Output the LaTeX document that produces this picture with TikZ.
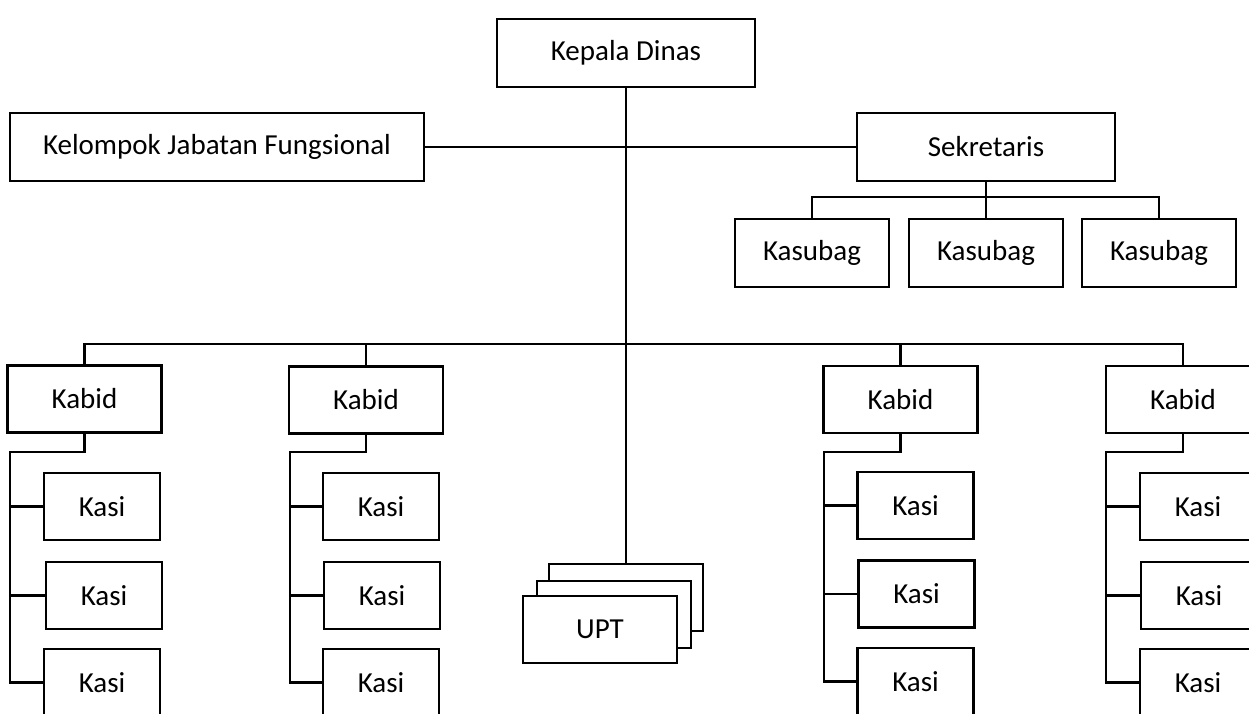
\documentclass[tikz,border=0pt]{standalone}
\usepackage{fontspec}
\setmainfont{Carlito}
\begin{document}
\begin{tikzpicture}[x=1pt,y=-1pt,
  box/.style={draw, line width=2.5pt, fill=white, inner sep=0pt, font=\fontsize{29}{34}\selectfont},
  wide/.style={box, minimum width=258pt, minimum height=68pt},
  kabid/.style={box, minimum width=154pt, minimum height=67pt},
  kasi/.style={box, minimum width=116pt, minimum height=67pt},
  conn/.style={line width=2.1pt}]
\useasboundingbox (0,0) rectangle (1249,713);
\clip (0,0) rectangle (1249,713);
\fill[white] (0,0) rectangle (1249,713);

% top level
\node[wide] (kd) at (626,53) {Kepala Dinas};
\node[box, minimum width=414pt, minimum height=68pt] (kjf) at (217,147) {Kelompok Jabatan Fungsional};
\node[wide] (sek) at (986,147) {Sekretaris};

% Kasubag
\node[kabid, minimum height=68pt] (ksb1) at (812,253) {Kasubag};
\node[kabid, minimum height=68pt] (ksb2) at (986,253) {Kasubag};
\node[kabid, minimum height=68pt] (ksb3) at (1159,253) {Kasubag};

% UPT stack
\node[kabid] (upt3) at (626,597.5) {};
\node[kabid] (upt2) at (614,614.5) {};
\node[kabid] (upt1) at (600,629.5) {UPT};

% Kabid
\node[kabid] (kb1) at (84.5,399) {Kabid};
\node[kabid] (kb2) at (366,400) {Kabid};
\node[kabid] (kb3) at (900.5,399.5) {Kabid};
\node[kabid] (kb4) at (1183,399.5) {Kabid};

% Kasi
\node[kasi] (ks11) at (102,506.5) {Kasi};
\node[kasi] (ks12) at (104,595.5) {Kasi};
\node[kasi] (ks13) at (102,682.5) {Kasi};
\node[kasi] (ks21) at (381,506.5) {Kasi};
\node[kasi] (ks22) at (382,595.5) {Kasi};
\node[kasi] (ks23) at (381,682.5) {Kasi};
\node[kasi] (ks31) at (915.5,505.5) {Kasi};
\node[kasi] (ks32) at (916.5,594) {Kasi};
\node[kasi] (ks33) at (915.5,681.5) {Kasi};
\node[kasi] (ks41) at (1198,506.5) {Kasi};
\node[kasi] (ks42) at (1199,595.5) {Kasi};
\node[kasi] (ks43) at (1198,682.5) {Kasi};

% coordinates
\coordinate (bus) at (0,344);
\coordinate (sp1) at (10,452);
\coordinate (sp2) at (290,452);
\coordinate (sp3) at (824,452);
\coordinate (sp4) at (1106,452);

% connectors
\draw[conn] (kd.south) -- (upt3.north);
\draw[conn] (kjf.east) -- (sek.west);
\draw[conn] (sek.south) -- (ksb2.north);
\draw[conn] (ksb1.north) -- ++(0,-21) -| (ksb3.north);
\draw[conn] (kb1.north) -- (kb1.north |- bus) -| (kb4.north);
\draw[conn] (kb2.north) -- (kb2.north |- bus);
\draw[conn] (kb3.north) -- (kb3.north |- bus);

\foreach \i in {1,2,3,4}{
  \draw[conn] (kb\i.south) |- (sp\i) -- (sp\i |- ks\i3.west) -- (ks\i3.west);
  \draw[conn] (ks\i1.west) -- (ks\i1.west -| sp\i);
  \draw[conn] (ks\i2.west) -- (ks\i2.west -| sp\i);
}
\end{tikzpicture}
\end{document}
